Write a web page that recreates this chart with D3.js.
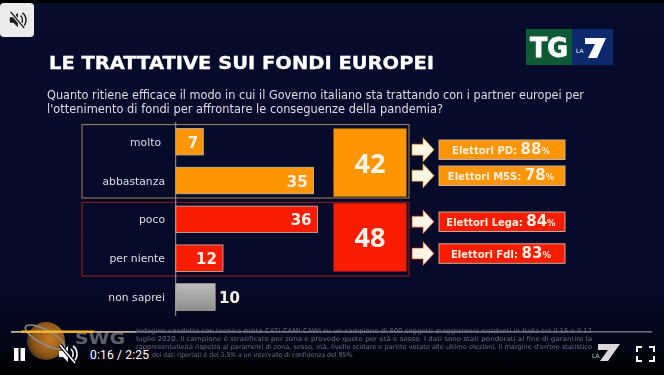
<!DOCTYPE html>
<html><head><meta charset="utf-8">
<script src="https://cdn.jsdelivr.net/npm/d3@7/dist/d3.min.js"></script>
<style>html,body{margin:0;padding:0;background:#000;overflow:hidden}svg{display:block}text{font-family:"DejaVu Sans",sans-serif}</style>
</head><body><svg id="c" width="664" height="375"></svg>
<script>
const categories=["molto","abbastanza","poco","per niente","non saprei"];
const values=[7,35,36,12,10];
const barColors=["#ff9500","#ff9500","#fa1e00","#fa1e00","#a3a3a3"];
const totals=[42,48];
const totalColors=["#ff9500","#fa1e00"];
const calloutLabels=["Elettori PD: ","Elettori M5S: ","Elettori Lega: ","Elettori FdI: "];
const calloutValues=[88,78,84,83];
const calloutColors=["#ff9500","#ff9500","#fa1e00","#fa1e00"];
const title="LE TRATTATIVE SUI FONDI EUROPEI";
const question=["Quanto ritiene efficace il modo in cui il Governo italiano sta trattando con i partner europei per","l'ottenimento di fondi per affrontare le conseguenze della pandemia?"];
const footnote=["Indagine condotta con tecnica mista CATI-CAMI-CAWI su un campione di 800 soggetti maggiorenni residenti in Italia tra il 15 e il 17",
"luglio 2020. Il campione è stratificato per zona e prevede quote per età e sesso. I dati sono stati ponderati al fine di garantire la",
"rappresentatività rispetto ai parametri di zona, sesso, età, livello scolare e partito votato alle ultime elezioni. Il margine d'errore statistico",
"dei dati riportati è del 3,5% a un intervallo di confidenza del 95%."];

const svg=d3.select("#c");
const defs=svg.append("defs");
const bg=defs.append("linearGradient").attr("id","bg").attr("x1",0).attr("x2",0).attr("y1",0).attr("y2",1);
[[0,"#070c2c"],[.75,"#060a28"],[.9,"#03061a"],[1,"#000"]].forEach(d=>bg.append("stop").attr("offset",d[0]).attr("stop-color",d[1]));
const gr=defs.append("linearGradient").attr("id","gr").attr("x1",0).attr("x2",0).attr("y1",0).attr("y2",1);
[[0,"#bcbcbc"],[1,"#8d8d8d"]].forEach(d=>gr.append("stop").attr("offset",d[0]).attr("stop-color",d[1]));
const sph=defs.append("radialGradient").attr("id","sph").attr("cx",.6).attr("cy",.45).attr("r",.65);
[[0,"#c57a22"],[.7,"#8a5418"],[1,"#3a2a18"]].forEach(d=>sph.append("stop").attr("offset",d[0]).attr("stop-color",d[1]));
defs.append("filter").attr("id","soft").attr("x",-.1).attr("y",-.1).attr("width",1.2).attr("height",1.2).append("feGaussianBlur").attr("stdDeviation",.45);

svg.append("rect").attr("width",664).attr("height",375).attr("fill","url(#bg)");
svg.append("rect").attr("width",664).attr("height",3).attr("fill","#000");
const g=svg.append("g").attr("filter","url(#soft)");

g.append("text").attr("x",49).attr("y",69).attr("font-size",17.5).attr("font-weight",700).attr("fill","#fff").attr("stroke","#fff").attr("stroke-width",.3).attr("textLength",385).attr("lengthAdjust","spacingAndGlyphs").text(title);
g.selectAll("text.q").data(question).join("text").attr("class","q").attr("x",47).attr("y",(d,i)=>99+i*13.5).attr("font-size",11.4).attr("fill","#dcdde3")
 .attr("textLength",(d,i)=>i?396:537).attr("lengthAdjust","spacingAndGlyphs").text(d=>d);

// logo TG LA7
g.append("rect").attr("x",526).attr("y",29).attr("width",46).attr("height",36).attr("fill","#0f5a35");
g.append("rect").attr("x",572).attr("y",29).attr("width",41).attr("height",36).attr("fill","#0c2a6e");
g.append("text").attr("x",549).attr("y",57).attr("text-anchor","middle").attr("font-size",26).attr("font-weight",700).attr("fill","#fff").attr("stroke","#fff").attr("stroke-width",.8).attr("textLength",38).attr("lengthAdjust","spacingAndGlyphs").text("TG");
g.append("text").attr("x",576).attr("y",53).attr("font-size",6).attr("fill","#fff").text("LA");
g.append("path").attr("d","M585 38H606L597 58H588L595 44H585Z").attr("fill","#fff");

const x=d3.scaleLinear().domain([0,100]).range([175.7,569.7]);
const y=d3.scalePoint().domain(categories).range([141.7,297]);
const barH=26.5;

// group frames
const frames=[{y0:124.5,y1:198,c:"#8a7058"},{y0:202.5,y1:276,c:"#7e1f1c"}];
g.selectAll("rect.f").data(frames).join("rect").attr("class","f").attr("x",82).attr("y",d=>d.y0).attr("width",327).attr("height",d=>d.y1-d.y0).attr("fill","none").attr("stroke",d=>d.c).attr("stroke-width",1.2);

g.selectAll("rect.bar").data(values).join("rect").attr("class","bar").attr("x",x(0)).attr("y",(d,i)=>y(categories[i])-barH/2).attr("width",d=>x(d)-x(0)).attr("height",barH)
 .attr("fill",(d,i)=>i==4?"url(#gr)":barColors[i]).attr("stroke","#c9b9a8").attr("stroke-width",.8);
g.append("line").attr("x1",x(0)).attr("x2",x(0)).attr("y1",122).attr("y2",316).attr("stroke","#9a9aa4").attr("stroke-width",1);

g.selectAll("text.cat").data(categories).join("text").attr("class","cat").attr("x",(d,i)=>i==0?161:165).attr("y",d=>y(d)+4).attr("text-anchor","end").attr("font-size",10.8).attr("fill","#dcdde3").text(d=>d);
g.selectAll("text.val").data(values).join("text").attr("class","val")
 .attr("x",(d,i)=>i==4?x(d)+4:i==0?x(d)-5:x(d)-6).attr("y",(d,i)=>y(categories[i])+6).attr("text-anchor",(d,i)=>i==4?"start":"end").attr("font-size",15).attr("font-weight",700).attr("fill","#f4f1e6").text(d=>d);

// total boxes
const totalY=d3.scaleBand().domain(totals).range([128.5,271.5]).paddingInner(.09);
g.selectAll("rect.tot").data(totals).join("rect").attr("class","tot").attr("x",333.5).attr("y",d=>totalY(d)).attr("width",73).attr("height",totalY.bandwidth()).attr("fill",(d,i)=>totalColors[i]);
g.selectAll("text.tot").data(totals).join("text").attr("class","tot").style("font-family","'Open Sans',sans-serif").attr("x",370).attr("y",d=>totalY(d)+totalY.bandwidth()/2+10).attr("text-anchor","middle").attr("font-size",27).attr("font-weight",700).attr("fill","#fbf6ea").text(d=>d);

// callouts
const cy=[149.7,175.7,221.7,253.5];
const cg=g.selectAll("g.call").data(calloutValues).join("g").attr("class","call").attr("transform",(d,i)=>`translate(0,${cy[i]})`);
cg.append("path").attr("d","M412 -5.5H423V-12L434 0L423 12V5.5H412Z").attr("fill","#fff6e6").attr("stroke",(d,i)=>calloutColors[i]).attr("stroke-opacity",.6).attr("stroke-width",1);
cg.append("rect").attr("x",439).attr("y",-9.7).attr("width",126).attr("height",19.5).attr("fill",(d,i)=>calloutColors[i]).attr("stroke","#c9b9a8").attr("stroke-width",.9);
const ct=cg.append("text").attr("x",501).attr("y",4).attr("text-anchor","middle").attr("fill","#f7efe0").attr("font-weight",700).attr("font-size",10);
ct.append("tspan").text((d,i)=>calloutLabels[i]);
ct.append("tspan").attr("font-size",15).text(d=>d);
ct.append("tspan").attr("font-size",8.5).text("%");

// footnote
g.selectAll("text.fn").data(footnote).join("text").attr("class","fn").attr("x",(d,i)=>i==3?152:136).attr("y",(d,i)=>333+i*7.9).attr("font-size",6.6).attr("fill","#6a6d7c")
 .attr("textLength",(d,i)=>i==3?202:456).attr("lengthAdjust","spacingAndGlyphs").text(d=>d);

// SWG logo
g.append("circle").attr("cx",46).attr("cy",341).attr("r",19).attr("fill","url(#sph)");
g.append("ellipse").attr("cx",45).attr("cy",337).attr("rx",22).attr("ry",7).attr("transform","rotate(28 45 337)").attr("fill","none").attr("stroke","#8d8a86").attr("stroke-width",1.6);
g.append("text").attr("x",75).attr("y",344).attr("font-size",16).attr("font-weight",700).attr("fill","#5f6068").attr("textLength",50).attr("lengthAdjust","spacingAndGlyphs").text("SWG");

// LA7 corner logo
g.append("text").attr("x",592).attr("y",358).attr("font-size",6).attr("fill","#c8c8d0").text("LA");
g.append("path").attr("d","M598 344H620L608 361H600L608 350H598Z").attr("fill","#d8d8dc");

// player chrome
svg.append("rect").attr("x",11).attr("y",331).attr("width",641).attr("height",1.6).attr("fill","#8a8a94").attr("opacity",.8);
svg.append("rect").attr("x",11).attr("y",331).attr("width",125).attr("height",1.6).attr("fill","#b9b39a");
svg.append("rect").attr("x",21).attr("y",330.5).attr("width",73).attr("height",2.4).attr("fill","#f6b52f");
svg.append("rect").attr("x",14).attr("y",348).attr("width",4.5).attr("height",13).attr("fill","#fff");
svg.append("rect").attr("x",20.5).attr("y",348).attr("width",4.5).attr("height",13).attr("fill","#fff");
function mute(tx,ty,s,c,o){const m=svg.append("g").attr("transform",`translate(${tx},${ty}) scale(${s})`);
 m.append("path").attr("d","M-8 -3H-4L1 -8V8L-4 3H-8Z").attr("fill",c);
 m.append("path").attr("d","M4 -5A7 7 0 0 1 4 5M6 -8A10 10 0 0 1 6 8").attr("fill","none").attr("stroke",c).attr("stroke-width",1.6);
 m.append("line").attr("x1",-7).attr("y1",-9).attr("x2",8).attr("y2",9).attr("stroke",o).attr("stroke-width",3.6);
 m.append("line").attr("x1",-7).attr("y1",-9).attr("x2",8).attr("y2",9).attr("stroke",c).attr("stroke-width",1.6);}
mute(67,354,1,"#fff","#05081c");
svg.append("text").attr("x",90).attr("y",359).style("font-family","Roboto,sans-serif").attr("font-size",12).attr("fill","#fff").attr("textLength",59).text("0:16 / 2:25");
svg.append("path").attr("d","M640 353V348H645M652 348H657V353M657 357V362H652M645 362H640V357").attr("transform","translate(-3,-1)").attr("fill","none").attr("stroke","#fff").attr("stroke-width",2);
svg.append("rect").attr("x",0).attr("y",3).attr("width",34).attr("height",34).attr("rx",4).attr("fill","#ececec");
mute(17,20,.9,"#1b1b1b","#ececec");
</script></body></html>
